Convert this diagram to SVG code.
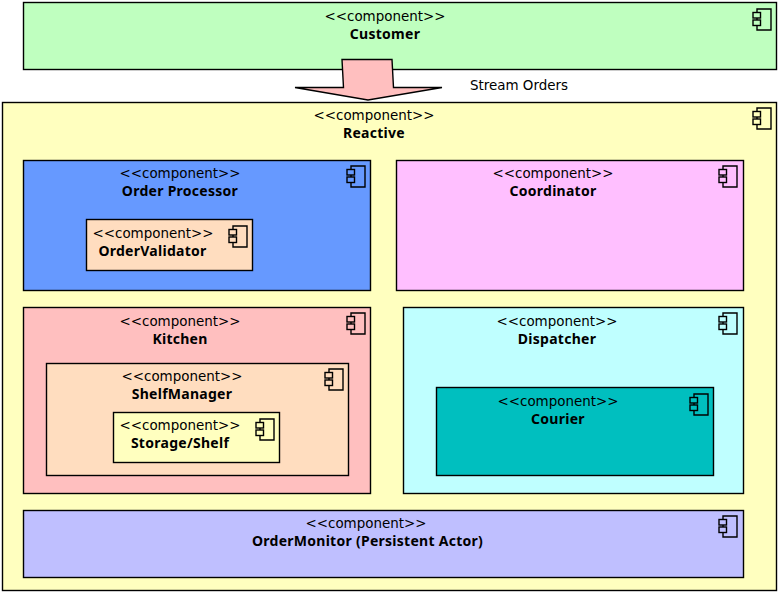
<svg xmlns="http://www.w3.org/2000/svg" width="783" height="596" viewBox="0 0 783 596">
<style>
.b{stroke:#000;stroke-width:1.4}
text{font-family:"DejaVu Sans","Liberation Sans",sans-serif;font-size:13.45px;fill:#000;text-anchor:middle}
.n{font-family:"Noto Sans","DejaVu Sans",sans-serif;font-weight:bold;font-size:14px;letter-spacing:.27px}
</style>
<defs>
<g id="ic" fill="none" stroke="#000" stroke-width="1.4">
<path d="M4 3.500V0H18V21H4V17"/>
<rect x="0" y="3.500" width="7.500" height="5.500"/>
<rect x="0" y="11" width="7.500" height="5.500"/>
<path d="M4 9V11"/>
</g>
</defs>
<rect width="783" height="596" fill="#fff"/>
<g id="customer"><rect class="b" x="23.500" y="2.500" width="753" height="67" fill="#bfffbf"/><use href="#ic" x="753" y="9"/><text x="385" y="21">&lt;&lt;component&gt;&gt;</text><text class="n" x="385" y="39">Customer</text></g>
<g id="reactive"><rect class="b" x="2.500" y="102.500" width="774" height="488" fill="#ffffbf"/><use href="#ic" x="753" y="108"/><text x="374" y="120">&lt;&lt;component&gt;&gt;</text><text class="n" x="374" y="138">Reactive</text></g>
<g id="order-processor"><rect class="b" x="23.500" y="160.500" width="347" height="130" fill="#6699ff"/><use href="#ic" x="347" y="166"/><text x="180" y="178">&lt;&lt;component&gt;&gt;</text><text class="n" x="180" y="196">Order Processor</text></g>
<g id="order-validator"><rect class="b" x="86.500" y="219.500" width="166" height="51" fill="#ffddbf"/><use href="#ic" x="229" y="226"/><text x="153" y="238">&lt;&lt;component&gt;&gt;</text><text class="n" x="152.500" y="256">OrderValidator</text></g>
<g id="coordinator"><rect class="b" x="396.500" y="160.500" width="347" height="130" fill="#ffbfff"/><use href="#ic" x="719" y="166"/><text x="553" y="178">&lt;&lt;component&gt;&gt;</text><text class="n" x="553" y="196">Coordinator</text></g>
<g id="kitchen"><rect class="b" x="23.500" y="307.500" width="347" height="186" fill="#ffbfbf"/><use href="#ic" x="347" y="313"/><text x="180" y="326">&lt;&lt;component&gt;&gt;</text><text class="n" x="180" y="344">Kitchen</text></g>
<g id="shelf-manager"><rect class="b" x="46.500" y="363.500" width="302" height="112" fill="#ffddbf"/><use href="#ic" x="325" y="369"/><text x="182" y="381">&lt;&lt;component&gt;&gt;</text><text class="n" x="182" y="399">ShelfManager</text></g>
<g id="storage-shelf"><rect class="b" x="113.500" y="412.500" width="166" height="50" fill="#ffffbf"/><use href="#ic" x="256" y="419"/><text x="180" y="430">&lt;&lt;component&gt;&gt;</text><text class="n" x="180" y="448">Storage/Shelf</text></g>
<g id="dispatcher"><rect class="b" x="403.500" y="307.500" width="340" height="186" fill="#bfffff"/><use href="#ic" x="719" y="313"/><text x="557" y="326">&lt;&lt;component&gt;&gt;</text><text class="n" x="557" y="344">Dispatcher</text></g>
<g id="courier"><rect class="b" x="436.500" y="387.500" width="277" height="88" fill="#00bfbf"/><use href="#ic" x="690" y="394"/><text x="558" y="406">&lt;&lt;component&gt;&gt;</text><text class="n" x="558" y="424">Courier</text></g>
<g id="order-monitor"><rect class="b" x="23.500" y="510.500" width="720" height="67" fill="#bfbfff"/><use href="#ic" x="719" y="516"/><text x="366" y="528">&lt;&lt;component&gt;&gt;</text><text class="n" x="367.500" y="546">OrderMonitor (Persistent Actor)</text></g>
<g id="connectors"><path class="b" d="M342 59.500H392L393.500 87.500H442L368 100L295 87.500H343.500Z" fill="#ffbfbf"/><text x="519" y="90">Stream Orders</text></g>
</svg>
